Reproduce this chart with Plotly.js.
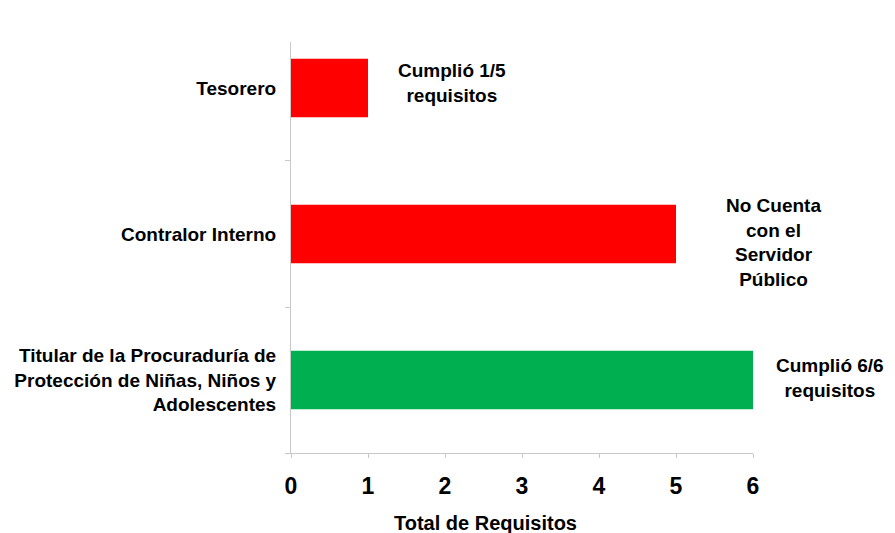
<!DOCTYPE html>
<html>
<head>
<meta charset="utf-8">
<script src="https://cdn.plot.ly/plotly-3.0.1.min.js"></script>
<style>html,body{margin:0;padding:0;background:#fff;}#chart{width:895px;height:533px;}</style>
</head>
<body>
<div id="chart"></div>
<script>
const categories = [
  "Titular de la Procuraduría de<br>Protección de Niñas, Niños y<br>Adolescentes",
  "Contralor Interno",
  "Tesorero"
];
const values = [6, 5, 1];
const barColors = ["#00b050", "#ff0000", "#ff0000"];
const notes = [
  "Cumplió 6/6<br>requisitos",
  "No Cuenta<br>con el<br>Servidor<br>Público",
  "Cumplió 1/5<br>requisitos"
];
const xTicks = [0, 1, 2, 3, 4, 5, 6];
const xTitle = "Total de Requisitos";

const FONT = "'Liberation Sans', Arial, sans-serif";
const noteXShift = [77, 97, 84];
const noteYShift = [2, -9, 5];

const annotations = notes.map((t, i) => ({
  x: values[i],
  y: categories[i],
  xref: 'x', yref: 'y',
  xshift: noteXShift[i],
  yshift: noteYShift[i],
  text: '<b>' + t + '</b>',
  showarrow: false,
  align: 'center',
  xanchor: 'center',
  yanchor: 'middle',
  font: {family: FONT, size: 19, color: '#000'}
}));

annotations.push({
  x: 0.42, y: -0.17, xref: 'paper', yref: 'paper',
  text: '<b>' + xTitle + '</b>',
  showarrow: false, xanchor: 'center', yanchor: 'middle',
  font: {family: FONT, size: 20, color: '#000'}
});

const data = [{
  type: 'bar',
  orientation: 'h',
  x: values,
  y: categories,
  width: 0.4,
  marker: {color: barColors},
  hoverinfo: 'none',
  cliponaxis: false
}];

const layout = {
  width: 895, height: 533,
  margin: {l: 291, r: 142, t: 42, b: 80},
  paper_bgcolor: '#fff',
  plot_bgcolor: '#fff',
  showlegend: false,
  font: {family: FONT, color: '#000'},
  xaxis: {
    range: [0, 6],
    tickvals: xTicks,
    ticktext: xTicks.map(v => '<b>' + v + '</b>'),
    showgrid: false,
    zeroline: false,
    showline: true,
    linecolor: '#c8c8c8',
    linewidth: 1,
    ticks: 'outside',
    ticklen: 4,
    tickcolor: '#c8c8c8',
    tickfont: {family: FONT, size: 23, color: '#000'},
    ticklabelstandoff: 8
  },
  yaxis: {
    type: 'category',
    range: [-0.5, 2.315],
    tickvals: categories,
    ticktext: categories.map(c => '<b>' + c + '</b>'),
    showgrid: false,
    zeroline: false,
    showline: true,
    linecolor: '#c8c8c8',
    linewidth: 1,
    ticks: 'outside',
    tickson: 'boundaries',
    ticklen: 5,
    tickcolor: '#c8c8c8',
    tickfont: {family: FONT, size: 19, color: '#000'},
    ticklabelstandoff: 10
  },
  annotations: annotations
};

Plotly.newPlot('chart', data, layout, {displayModeBar: false, staticPlot: true});
</script>
</body>
</html>
